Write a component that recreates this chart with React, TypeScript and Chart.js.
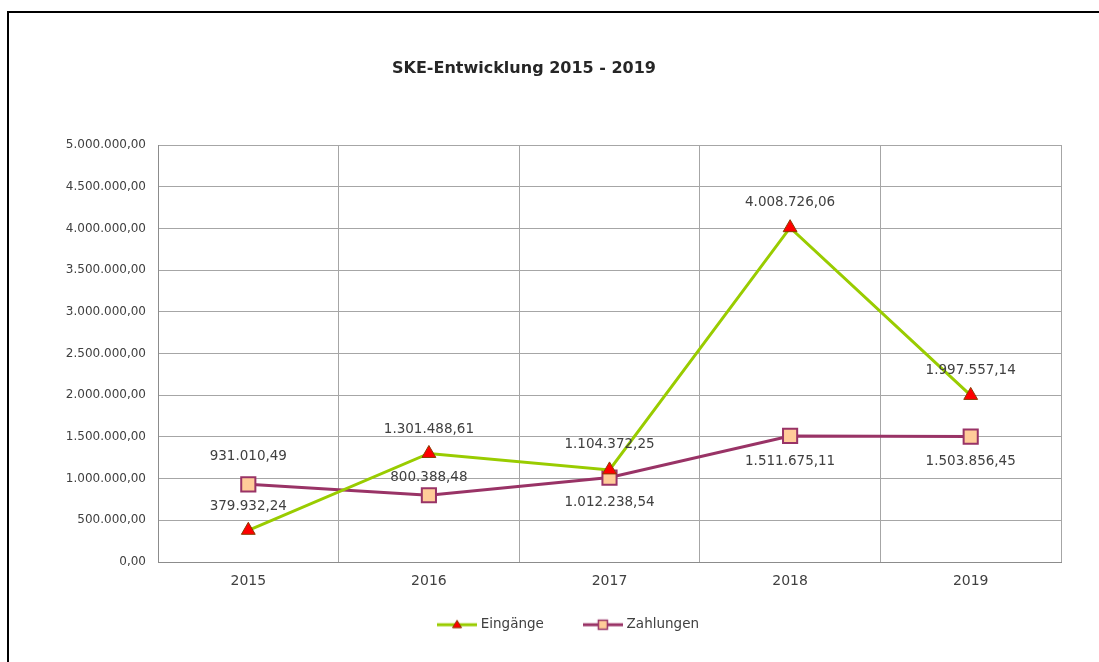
import React, { useEffect, useRef } from "react";
import { Chart, registerables } from "chart.js";

Chart.register(...registerables);

const years = ["2015", "2016", "2017", "2018", "2019"];
const eingaenge = [379932.24, 1301488.61, 1104372.25, 4008726.06, 1997557.14];
const zahlungen = [931010.49, 800388.48, 1012238.54, 1511675.11, 1503856.45];
const seriesNames = ["Eingänge", "Zahlungen"];
const yMin = 0;
const yMax = 5000000;
const yStep = 500000;
const chartTitle = "SKE-Entwicklung 2015 - 2019";
// label placement (px above < 0, below > 0)
const eingaengeLabelShift = [-24, -24, -25, -25, -25];
const zahlungenLabelShift = [-28, -18, 25, 26, 25];

const GREEN = "#99cc00";
const PURPLE = "#993366";
const TEXT = "#404040";

function fmtDe(v: number): string {
  const neg = v < 0;
  const fixed = Math.abs(v).toFixed(2);
  const [intPart, dec] = fixed.split(".");
  const withDots = intPart.replace(/\B(?=(\d{3})+(?!\d))/g, ".");
  return (neg ? "-" : "") + withDots + "," + dec;
}

function makeIcon(kind: "tri" | "sq"): HTMLCanvasElement {
  const c = document.createElement("canvas");
  c.width = 40;
  c.height = 14;
  const g = c.getContext("2d")!;
  g.lineWidth = 3;
  g.strokeStyle = kind === "tri" ? GREEN : PURPLE;
  g.beginPath();
  g.moveTo(0, 7);
  g.lineTo(40, 7);
  g.stroke();
  if (kind === "tri") {
    g.fillStyle = "#ff0000";
    g.strokeStyle = "#8a3b00";
    g.lineWidth = 1;
    g.beginPath();
    g.moveTo(20, 2.5);
    g.lineTo(24.5, 10);
    g.lineTo(15.5, 10);
    g.closePath();
    g.fill();
    g.stroke();
  } else {
    g.fillStyle = "#ffcc99";
    g.strokeStyle = PURPLE;
    g.lineWidth = 1.5;
    g.fillRect(15.5, 2.5, 9, 9);
    g.strokeRect(15.5, 2.5, 9, 9);
  }
  return c;
}

const titlePlugin = {
  id: "customTitle",
  afterDraw(chart: any) {
    const ctx = chart.ctx;
    ctx.save();
    ctx.font = 'bold 16px "DejaVu Sans"';
    ctx.fillStyle = "#262626";
    ctx.textAlign = "center";
    ctx.textBaseline = "middle";
    ctx.fillText(chartTitle, 524, 69);
    ctx.restore();
  },
};

const legendPlacePlugin = {
  id: "legendPlace",
  afterLayout(chart: any) {
    const lg = chart.legend;
    if (!lg) return;
    lg.left = 78;
    lg.top -= 16;
    lg.bottom -= 16;
  },
};

const valueLabelPlugin = {
  id: "valueLabels",
  afterDatasetsDraw(chart: any) {
    const ctx = chart.ctx;
    ctx.save();
    ctx.font = '13.5px "DejaVu Sans"';
    ctx.fillStyle = TEXT;
    ctx.textAlign = "center";
    ctx.textBaseline = "middle";
    chart.data.datasets.forEach((ds: any, i: number) => {
      const meta = chart.getDatasetMeta(i);
      meta.data.forEach((pt: any, j: number) => {
        ctx.fillText(fmtDe(ds.data[j]), pt.x, pt.y + ds.labelShift[j]);
      });
    });
    ctx.restore();
  },
};

export default function App() {
  const ref = useRef<HTMLCanvasElement | null>(null);

  useEffect(() => {
    if (!ref.current) return;
    Chart.defaults.font.family = '"DejaVu Sans"';
    const icons = [makeIcon("tri"), makeIcon("sq")];
    const chart = new Chart(ref.current, {
      type: "line",
      data: {
        labels: years,
        datasets: [
          {
            label: seriesNames[0],
            data: eingaenge,
            borderColor: GREEN,
            borderWidth: 3,
            backgroundColor: "#ff0000",
            pointStyle: "triangle",
            pointRadius: 8,
            pointBackgroundColor: "#ff0000",
            pointBorderColor: "#8a3b00",
            pointBorderWidth: 1,
            tension: 0,
            labelShift: eingaengeLabelShift,
          } as any,
          {
            label: seriesNames[1],
            data: zahlungen,
            borderColor: PURPLE,
            borderWidth: 3,
            backgroundColor: "#ffcc99",
            pointStyle: "rect",
            pointRadius: 10,
            pointBackgroundColor: "#ffcc99",
            pointBorderColor: PURPLE,
            pointBorderWidth: 2,
            tension: 0,
            labelShift: zahlungenLabelShift,
          } as any,
        ],
      },
      options: {
        responsive: false,
        animation: false,
        layout: { padding: { top: 145, left: 0, right: 38, bottom: 4.5 } },
        plugins: {
          title: { display: false },
          tooltip: { enabled: false },
          legend: {
            display: true,
            position: "bottom",
            labels: {
              usePointStyle: true,
              pointStyleWidth: 34,
              padding: 42,
              color: TEXT,
              font: { family: '"DejaVu Sans"', size: 13.5 },
              generateLabels: (c: any) =>
                c.data.datasets.map((ds: any, i: number) => ({
                  text: ds.label,
                  pointStyle: icons[i],
                  datasetIndex: i,
                  hidden: false,
                  fontColor: TEXT,
                  lineWidth: 0,
                  fillStyle: "transparent",
                  strokeStyle: "transparent",
                })),
            },
          },
        },
        scales: {
          x: {
            type: "category",
            offset: true,
            grid: { color: "#a6a6a6", lineWidth: 1, offset: true, drawTicks: false },
            border: { color: "#8c8c8c", width: 1 },
            ticks: { color: TEXT, font: { size: 14 }, padding: 11 },
            afterFit: (s: any) => {
              s.height = 30;
            },
          },
          y: {
            min: yMin,
            max: yMax,
            grid: { color: "#a6a6a6", lineWidth: 1, drawTicks: false },
            border: { color: "#8c8c8c", width: 1 },
            ticks: {
              stepSize: yStep,
              color: TEXT,
              font: { size: 12 },
              padding: 12,
              callback: (v: any) => fmtDe(Number(v)),
            },
            afterFit: (s: any) => {
              s.width = 158;
            },
          },
        },
      },
      plugins: [legendPlacePlugin, titlePlugin, valueLabelPlugin],
    } as any);
    return () => chart.destroy();
  }, []);

  return (
    <div>
      <div
        style={{
          position: "fixed",
          left: 7,
          top: 11,
          width: 2000,
          height: 2000,
          borderTop: "2px solid #000",
          borderLeft: "2px solid #000",
          boxSizing: "border-box",
        }}
      />
      <canvas
        ref={ref}
        width={1099}
        height={662}
        style={{ position: "fixed", left: 0, top: 0, width: 1099, height: 662 }}
      />
    </div>
  );
}
